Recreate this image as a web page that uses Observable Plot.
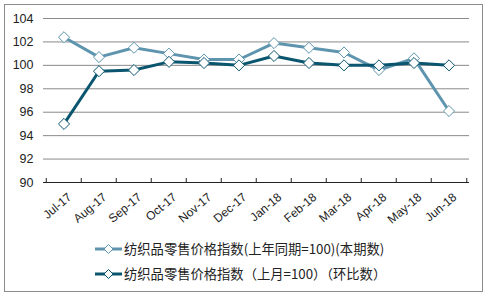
<!DOCTYPE html>
<html>
<head>
<meta charset="utf-8">
<script src="https://cdn.jsdelivr.net/npm/d3@7"></script>
<script src="https://cdn.jsdelivr.net/npm/@observablehq/plot@0.6"></script>
<style>
  html, body { margin: 0; padding: 0; background: #fff; }
  #wrap { position: relative; width: 488px; height: 297px; overflow: hidden; font-family: "Liberation Sans", Arial, sans-serif; }
  #frame { position: absolute; left: 4px; top: 4px; width: 479px; height: 288px; border: 1px solid #8c8c8c; box-sizing: border-box; }
  #chart { position: absolute; left: 0; top: 0; }
  #legend { position: absolute; left: 95px; top: 236px; font-family: "Noto Sans CJK SC", sans-serif; font-size: 13.3px; color: #222; }
  .item { display: flex; align-items: center; height: 25px; }
  .item svg { margin-right: 2px; }
</style>
</head>
<body>
<div id="wrap">
  <div id="frame"></div>
  <div id="chart"></div>
  <div id="legend"></div>
</div>
<script>
const months = ["Jul-17","Aug-17","Sep-17","Oct-17","Nov-17","Dec-17","Jan-18","Feb-18","Mar-18","Apr-18","May-18","Jun-18"];
const yoyValues = [102.4, 100.7, 101.5, 101.0, 100.5, 100.5, 101.9, 101.5, 101.1, 99.6, 100.6, 96.1];
const momValues = [95.0, 99.5, 99.6, 100.3, 100.2, 100.0, 100.8, 100.2, 100.0, 100.0, 100.2, 100.0];
const yTicks = [90, 92, 94, 96, 98, 100, 102, 104];
const seriesNames = ["纺织品零售价格指数(上年同期=100)(本期数)", "纺织品零售价格指数（上月=100）（环比数）"];
const seriesColors = ["#5e94ae", "#0b566f"];

const yoy = months.map((m, i) => ({month: m, value: yoyValues[i]}));
const mom = months.map((m, i) => ({month: m, value: momValues[i]}));

const W = 488, H = 232;
const mL = 43, mR = 19, mT = 18, mB = 50;
const step = (W - mL - mR) / months.length;

const chart = Plot.plot({
  width: W,
  height: H,
  marginLeft: mL,
  marginRight: mR,
  marginTop: mT,
  marginBottom: mB,
  style: {fontFamily: "Liberation Sans, Arial, sans-serif", background: "transparent", overflow: "visible"},
  x: {type: "band", domain: months, padding: 0},
  y: {domain: [90, 104]},
  marks: [
    Plot.ruleY(yTicks.filter(d => d !== 90), {stroke: "#8a8a8a", strokeWidth: 1}),
    Plot.axisY(yTicks, {tickSize: 0, tickPadding: 10, fontSize: 12.5, fill: "#222", label: null}),
    Plot.axisX({tickSize: 0, tickRotate: -40, tickPadding: 8, fontSize: 12, fill: "#222", label: null, dx: 6, dy: 5}),
    Plot.ruleY([90], {stroke: "#222", strokeWidth: 1.2}),
    Plot.ruleX(months, {x: d => d, dx: -step / 2, y1: 90, y2: 90, insetTop: -4, stroke: "#222"}),
    Plot.ruleX(months.slice(-1), {x: d => d, dx: step / 2, y1: 90, y2: 90, insetTop: -4, stroke: "#222"}),
    Plot.line(yoy, {x: "month", y: "value", stroke: seriesColors[0], strokeWidth: 3}),
    Plot.dot(yoy, {x: "month", y: "value", symbol: "diamond2", r: 5, fill: "white", stroke: seriesColors[0], strokeWidth: 1}),
    Plot.line(mom, {x: "month", y: "value", stroke: seriesColors[1], strokeWidth: 3}),
    Plot.dot(mom, {x: "month", y: "value", symbol: "diamond2", r: 5, fill: "white", stroke: seriesColors[1], strokeWidth: 1})
  ]
});
document.getElementById("chart").appendChild(chart);

const legend = document.getElementById("legend");
seriesNames.forEach((name, i) => {
  const item = document.createElement("div");
  item.className = "item";
  item.innerHTML = `<svg width="27" height="12"><line x1="0" y1="6" x2="27" y2="6" stroke="${seriesColors[i]}" stroke-width="3"/><path d="M13.5,1.5 L18,6 L13.5,10.5 L9,6 Z" fill="white" stroke="${seriesColors[i]}" stroke-width="1"/></svg><span>${name}</span>`;
  legend.appendChild(item);
});
</script>
</body>
</html>
